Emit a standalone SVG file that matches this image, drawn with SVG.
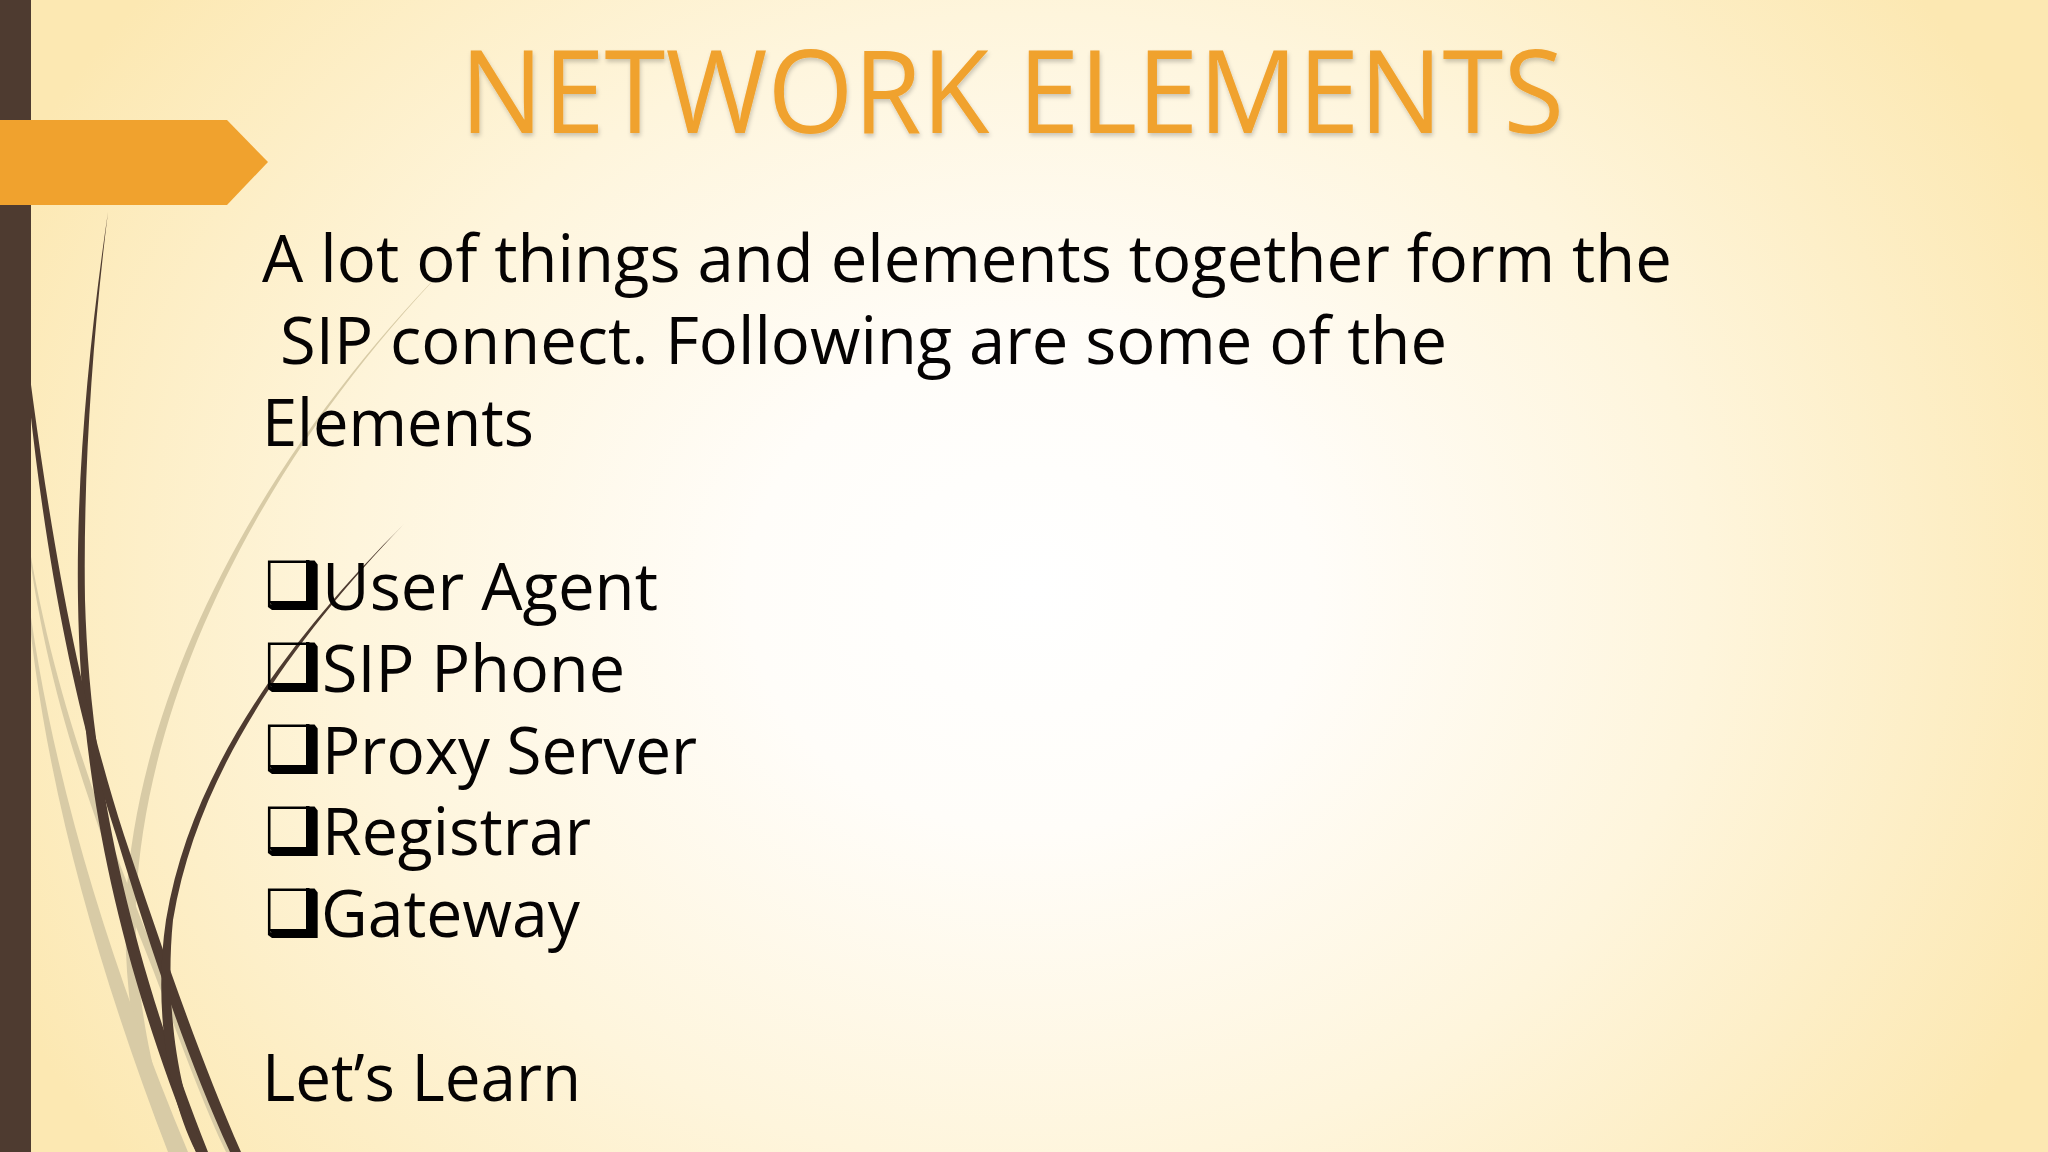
<svg xmlns="http://www.w3.org/2000/svg" width="2048" height="1152" viewBox="0 0 2048 1152">
<style>
.body{font-family:"Open Sans","Noto Sans","Liberation Sans",sans-serif;font-size:66px;fill:#050303}
.box{font-family:"DejaVu Sans",sans-serif;font-size:64px;fill:#000}
.title{font-family:"Open Sans","Noto Sans","Liberation Sans",sans-serif;font-weight:400;font-size:115px;fill:#F0A22E}
.dark{fill:#4E3B30}
.light{fill:#D8CBA6}
</style>
<defs>
<radialGradient id="bg" gradientUnits="userSpaceOnUse" cx="1030" cy="590" r="1130" gradientTransform="translate(1030 590) scale(1 .85) translate(-1030 -590)">
<stop offset="0" stop-color="#FFFFFF"/>
<stop offset=".25" stop-color="#FFFDF9"/>
<stop offset=".6" stop-color="#FEF5DC"/>
<stop offset="1" stop-color="#FCE8B2"/>
</radialGradient>
<filter id="sh" x="-5%" y="-10%" width="110%" height="125%"><feDropShadow dx="1" dy="3" stdDeviation="2" flood-color="#000" flood-opacity=".2"/></filter>
<path id="bs" d="M306,560 H309 L317,568 V609 H276 L268,601 H306Z" fill="#000"/>
</defs>
<rect width="2048" height="1152" fill="url(#bg)"/>
<path class="light" d="M465,248 C289,420 141,660 126,900 C122,990 139,1090 170,1152 L181,1152 C153,1090 133,990 136,900 C149,660 292,420 465,248Z"/>
<path class="light" d="M25,520 C43,680 87,800 136,927 C166,1000 196,1090 226,1152 L235,1152 C206,1090 176,1000 144,927 C95,800 49,680 25,520Z"/>
<path class="light" d="M25,570 C38,760 94,960 168,1152 L188,1152 C108,960 46,760 25,570Z"/>
<path class="dark" d="M108,212 C89,340 76,480 78,600 C80,740 102,920 196,1152 L208,1152 C116,920 89,740 85,600 C83,480 92,340 108,212Z"/>
<path class="dark" d="M18,280 C36,510 66,680 116,835 C145,930 183,1050 230,1152 L241,1152 C196,1050 156,930 124,835 C74,680 45,510 18,280Z"/>
<path class="dark" d="M404,524 C288,640 191,770 166,920 C154,1000 165,1090 196,1152 L205,1152 C176,1090 165,1000 173,920 C198,770 293,640 404,524Z"/>
<rect class="dark" width="31" height="1152"/>
<path d="M0,120 H227 L268,162 L227,205 H0Z" fill="#F0A22E"/>
<text class="title" x="460" y="133" textLength="1104" lengthAdjust="spacingAndGlyphs" filter="url(#sh)">NETWORK ELEMENTS</text>
<text class="body" x="262" y="282" textLength="1410" lengthAdjust="spacingAndGlyphs">A lot of things and elements together form the</text>
<text class="body" x="280" y="364" textLength="1167" lengthAdjust="spacingAndGlyphs">SIP connect. Following are some of the</text>
<text class="body" x="262" y="446" textLength="272" lengthAdjust="spacingAndGlyphs">Elements</text>
<text class="box" x="264" y="607">❑</text><use href="#bs"/>
<text class="box" x="264" y="689">❑</text><use href="#bs" y="82"/>
<text class="box" x="264" y="771">❑</text><use href="#bs" y="164"/>
<text class="box" x="264" y="853">❑</text><use href="#bs" y="246"/>
<text class="box" x="264" y="935">❑</text><use href="#bs" y="328"/>
<text class="body" x="322" y="609.5" textLength="336" lengthAdjust="spacingAndGlyphs">User Agent</text>
<text class="body" x="322" y="691.5" textLength="303" lengthAdjust="spacingAndGlyphs">SIP Phone</text>
<text class="body" x="322" y="773.5" textLength="375" lengthAdjust="spacingAndGlyphs">Proxy Server</text>
<text class="body" x="322" y="855" textLength="269" lengthAdjust="spacingAndGlyphs">Registrar</text>
<text class="body" x="321" y="937" textLength="259" lengthAdjust="spacingAndGlyphs">Gateway</text>
<text class="body" x="262" y="1101" textLength="319" lengthAdjust="spacingAndGlyphs">Let’s Learn</text>
</svg>
